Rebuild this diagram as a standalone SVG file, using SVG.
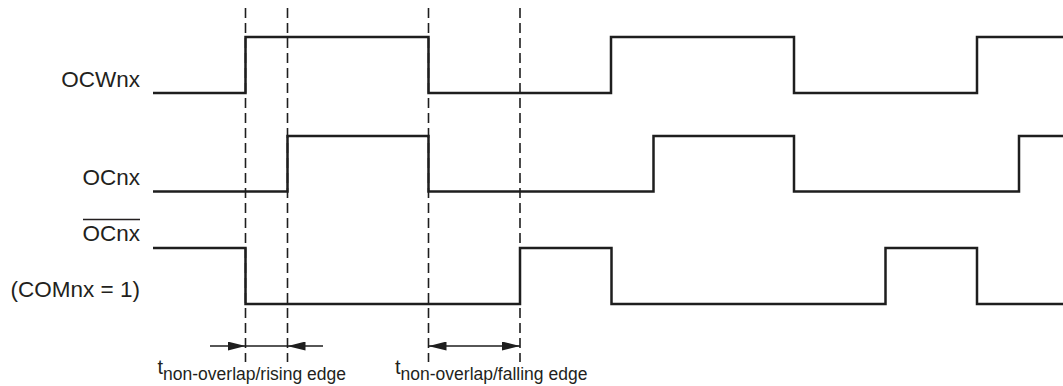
<svg xmlns="http://www.w3.org/2000/svg" width="1063" height="386" viewBox="0 0 1063 386">
<style>
.sig{fill:none;stroke:#1e1e1e;stroke-width:2.5;stroke-linejoin:miter}
.dash{fill:none;stroke:#1e1e1e;stroke-width:1.6;stroke-dasharray:10 5}
.dim{fill:none;stroke:#1e1e1e;stroke-width:1.4}
.lbl{font-family:"Liberation Sans",Arial,sans-serif;font-size:22.5px;fill:#231f20}
.sub{font-family:"Liberation Sans",Arial,sans-serif;font-size:20px;fill:#231f20}
</style>
<defs>
<marker id="ah" viewBox="0 0 18 9" refX="18" refY="4.5" markerWidth="18" markerHeight="9" markerUnits="userSpaceOnUse" orient="auto">
<path d="M0,0 L18,4.5 L0,9 Z" fill="#1e1e1e"/>
</marker>
</defs>
<g id="labels">
<text class="lbl" x="140" y="87" text-anchor="end">OCWnx</text>
<text class="lbl" x="140" y="185" text-anchor="end">OCnx</text>
<text class="lbl" x="140" y="240.5" text-anchor="end">OCnx</text>
<line x1="83" y1="219.5" x2="140" y2="219.5" stroke="#231f20" stroke-width="1.5"/>
<text class="lbl" x="140" y="296.5" text-anchor="end">(COMnx = 1)</text>
</g>
<g id="sig-ocwnx">
<path class="sig" d="M153,93 H245.5 V37 H428.5 V93 H611 V37 H794 V93 H977 V37 H1063"/>
</g>
<g id="sig-ocnx">
<path class="sig" d="M153,191.5 H287.5 V136 H428.5 V191.5 H653.5 V136 H794 V191.5 H1019 V136 H1063"/>
</g>
<g id="sig-ocnx-bar">
<path class="sig" d="M153,248 H245.5 V304 H520 V248 H611.5 V304 H885.5 V248 H977 V304 H1063"/>
</g>
<g id="connectors">
<line class="dash" x1="245.5" y1="8" x2="245.5" y2="362"/>
<line class="dash" x1="287.5" y1="8" x2="287.5" y2="362"/>
<line class="dash" x1="428.5" y1="8" x2="428.5" y2="362"/>
<line class="dash" x1="520" y1="8" x2="520" y2="362"/>
<line class="dim" x1="210" y1="346" x2="245.5" y2="346" marker-end="url(#ah)"/>
<line class="dim" x1="245.5" y1="346" x2="287.5" y2="346"/>
<line class="dim" x1="323" y1="346" x2="287.5" y2="346" marker-end="url(#ah)"/>
<line class="dim" x1="474" y1="346" x2="428.5" y2="346" marker-end="url(#ah)"/>
<line class="dim" x1="474" y1="346" x2="520" y2="346" marker-end="url(#ah)"/>
</g>
<g id="timing-labels">
<text class="sub" x="157.5" y="374">t<tspan font-size="17.5" y="380">non-overlap/rising edge</tspan></text>
<text class="sub" x="395" y="374">t<tspan font-size="17.5" y="380">non-overlap/falling edge</tspan></text>
</g>
</svg>
